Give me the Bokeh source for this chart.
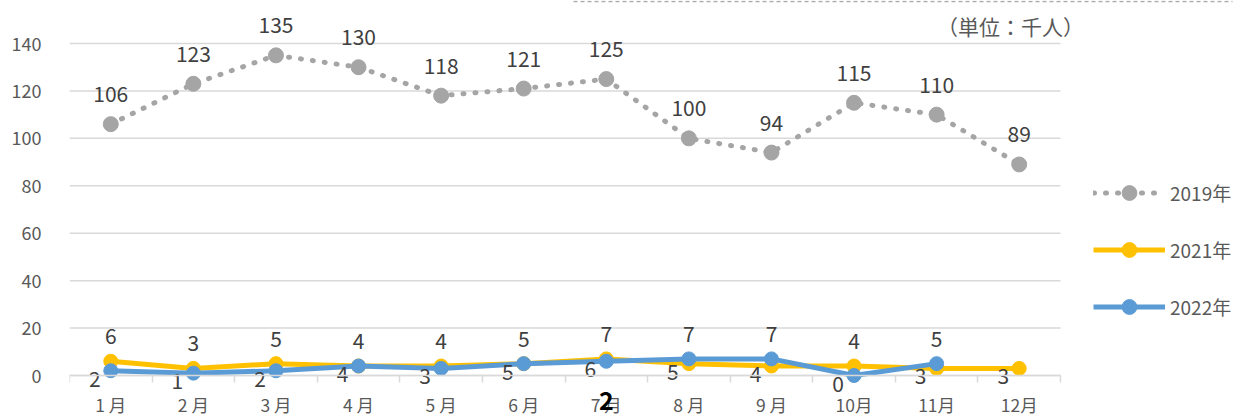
from bokeh.plotting import figure
from bokeh.models import Range1d, FixedTicker, Legend, LegendItem, Label
from bokeh.embed import file_html
from bokeh.resources import INLINE

# ---- data ----
months = ["1 月", "2 月", "3 月", "4 月", "5 月", "6 月", "7 月", "8 月", "9 月", "10月", "11月", "12月"]
v2019 = [106, 123, 135, 130, 118, 121, 125, 100, 94, 115, 110, 89]
v2021 = [6, 3, 5, 4, 4, 5, 7, 5, 4, 4, 3, 3]
v2022 = [2, 1, 2, 4, 3, 5, 6, 7, 7, 0, 5]
y_ticks = [0, 20, 40, 60, 80, 100, 120, 140]
series_names = ["2019年", "2021年", "2022年"]
unit_text = "（単位：千人）"
page_mark = "2"

FONT = "Noto Sans CJK JP"
GRAY = "#A5A5A5"
YELLOW = "#FFC000"
BLUE = "#5B9BD5"
LABEL_C = "#404040"
TICK_C = "#595959"
GRID_C = "#D9D9D9"

W, H = 1242, 417
# geometry in pixels (figure = page)
FL, FT, FB = 69, 0, H          # frame left / top / bottom; frame reaches right edge
PLOT_R = 1060                  # right end of the category area
Y0, Y140 = 375, 43
ppu = (Y0 - Y140) / 140.0
n = len(months)
ppc = (PLOT_R - FL) / n
y_end = 140 + (Y140 - FT) / ppu
y_start = -(FB - Y0) / ppu
x_end = -0.5 + (W - FL) / ppc


def data_x(px):
    return (px - FL) / ppc - 0.5


def data_y(py):
    return (Y0 - py) / ppu


p = figure(width=W, height=H, x_range=Range1d(-0.5, x_end), y_range=Range1d(y_start, y_end),
           output_backend="svg", toolbar_location=None,
           min_border_left=FL, min_border_right=0, min_border_top=0, min_border_bottom=0)
p.outline_line_color = None
p.background_fill_color = "white"
p.border_fill_color = "white"

xs = list(range(n))
x_lo, x_hi = -0.5, n - 0.5

# dashed rule along the top edge
p.segment(x0=[data_x(573)], y0=[data_y(1)], x1=[data_x(1232)], y1=[data_y(1)],
          line_color="#ABABAB", line_width=1.5, line_dash="4 3")

# horizontal gridlines over the category area only
p.segment(x0=[x_lo] * len(y_ticks), y0=y_ticks, x1=[x_hi] * len(y_ticks), y1=y_ticks,
          line_color=GRID_C, line_width=1.5)
p.xgrid.visible = False
p.ygrid.visible = False

# x axis at y = 0
p.xaxis.fixed_location = 0
p.xaxis.bounds = (x_lo, x_hi)
p.xaxis.ticker = FixedTicker(ticks=xs, minor_ticks=[i - 0.5 for i in range(n + 1)])
p.xaxis.major_label_overrides = {i: m for i, m in enumerate(months)}
p.xaxis.axis_line_color = GRID_C
p.xaxis.axis_line_width = 1.5
p.xaxis.major_tick_line_color = None
p.xaxis.minor_tick_line_color = GRID_C
p.xaxis.minor_tick_line_width = 1.5
p.xaxis.minor_tick_in = 0
p.xaxis.minor_tick_out = 7
p.xaxis.major_label_standoff = 9
p.xaxis.major_label_text_font = FONT
p.xaxis.major_label_text_font_size = "17.5px"
p.xaxis.major_label_text_color = TICK_C

# y axis
p.yaxis.ticker = FixedTicker(ticks=y_ticks, minor_ticks=[])
p.yaxis.axis_line_color = None
p.yaxis.major_tick_line_color = None
p.yaxis.minor_tick_line_color = None
p.yaxis.major_label_standoff = 22
p.yaxis.major_label_text_font = FONT
p.yaxis.major_label_text_font_size = "18px"
p.yaxis.major_label_text_color = TICK_C

# series
l19 = p.line(xs, v2019, line_color=GRAY, line_width=5, line_dash="1 11", line_cap="round")
m19 = p.scatter(xs, v2019, size=15, fill_color=GRAY, line_color=GRAY)
l21 = p.line(xs, v2021, line_color=YELLOW, line_width=5, line_join="round")
m21 = p.scatter(xs, v2021, size=14, fill_color=YELLOW, line_color=YELLOW)
x22 = xs[:len(v2022)]
l22 = p.line(x22, v2022, line_color=BLUE, line_width=5, line_join="round")
m22 = p.scatter(x22, v2022, size=14, fill_color=BLUE, line_color=BLUE)

lab_kw = dict(text_font={"value": FONT}, text_font_size="21px", text_color=LABEL_C,
              text_align="center", text_baseline="middle")
p.text(xs, v2019, text=[str(v) for v in v2019], y_offset=-30, **lab_kw)

up_x, up_y, up_t, lo_x, lo_y, lo_t = [], [], [], [], [], []
for i in xs:
    a = v2021[i]
    b = v2022[i] if i < len(v2022) else None
    if b is None:
        lo_x.append(i); lo_y.append(a); lo_t.append(str(a))
        continue
    hi, lo = (b, a) if b > a else (a, b)
    up_x.append(i); up_y.append(hi); up_t.append(str(hi))
    lo_x.append(i); lo_y.append(lo); lo_t.append(str(lo))
p.text(up_x, up_y, text=up_t, y_offset=-25, **lab_kw)
p.text(lo_x, lo_y, text=lo_t, x_offset=-16, y_offset=8, **lab_kw)

# legend
GH = 37
legend = Legend(items=[LegendItem(label=series_names[0], renderers=[l19, m19]),
                       LegendItem(label=series_names[1], renderers=[l21, m21]),
                       LegendItem(label=series_names[2], renderers=[l22, m22])],
                location=(1093 - FL, FB - (192 - GH / 2 + 3 * GH + 2 * 20)),
                glyph_width=72, glyph_height=GH, label_height=GH, spacing=20,
                padding=0, margin=0, border_line_color=None, background_fill_alpha=0,
                label_text_font=FONT, label_text_font_size="19px", label_text_color=TICK_C,
                label_standoff=5)
p.add_layout(legend)

# unit label
p.add_layout(Label(x=data_x(1010), y=data_y(25), text=unit_text, text_font=FONT,
                   text_font_size="21px", text_color=TICK_C, text_align="center",
                   text_baseline="middle"))
# stray page mark
p.add_layout(Label(x=6, y=data_y(400), text=page_mark, text_font=FONT, text_font_size="25px",
                   text_font_style="bold", text_color="black", text_align="center",
                   text_baseline="middle"))

open("out.html", "w").write(file_html(p, INLINE))
